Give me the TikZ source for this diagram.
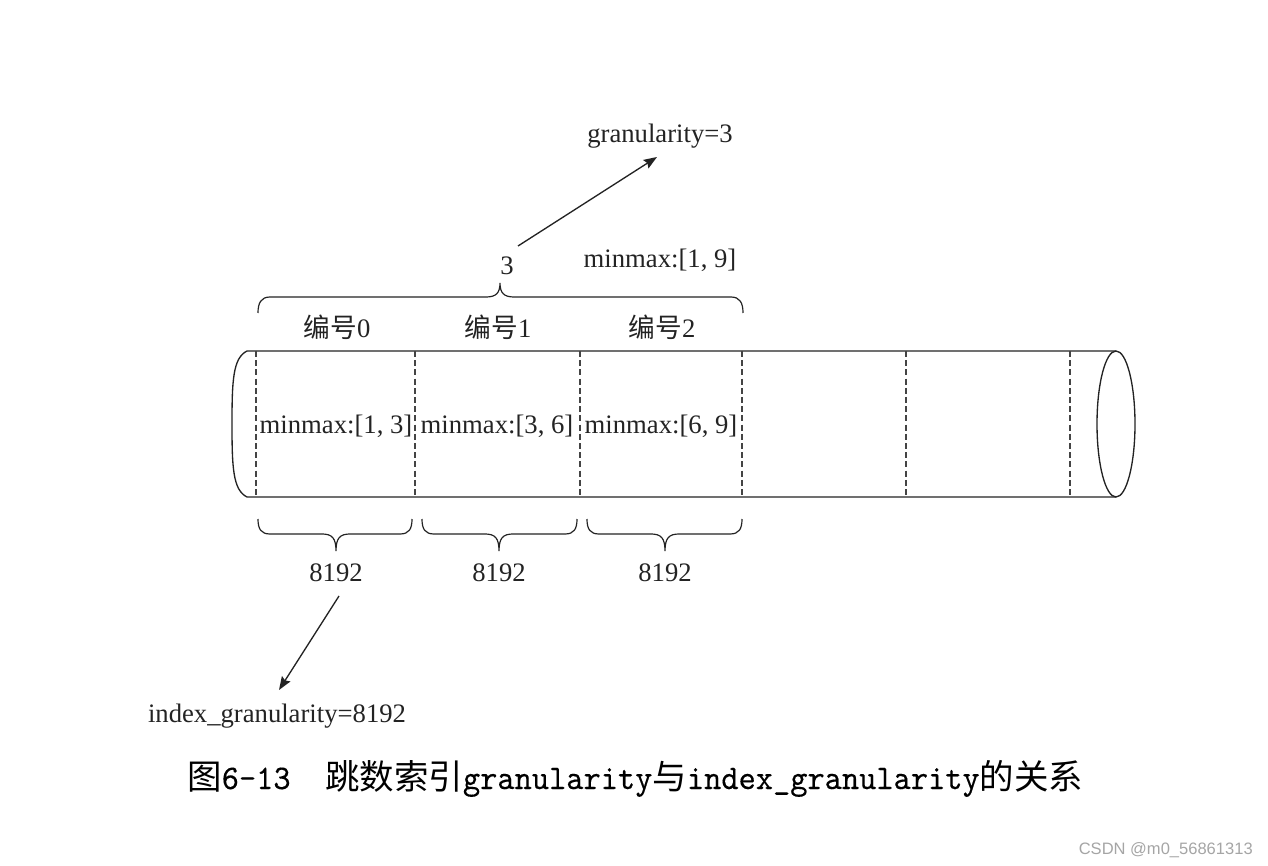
\documentclass[tikz,border=0pt]{standalone}
\usepackage{fontspec}
\setmainfont{Liberation Serif}
\newfontfamily\cjk{Noto Sans CJK SC}
\newfontfamily\capmono[Extension=.otf,FakeStretch=0.952,FakeBold=0.3]{lmmono10-regular}
\newfontfamily\wmfont{Liberation Sans}
\usetikzlibrary{arrows.meta}

\definecolor{ink}{RGB}{35,35,35}
\definecolor{wmgray}{RGB}{165,165,165}

% curly brace opening downward (tip on top): x-left, x-right, x-tip
\newcommand\topbrace[3]{%
  \draw[bracestyle] (#1,313) .. controls (#1,303) and (#1+3,297) .. (#1+12,297)
    -- (#3-14,297) .. controls (#3-4,297) and (#3,293) .. (#3,283)
    .. controls (#3,293) and (#3+4,297) .. (#3+14,297)
    -- (#2-12,297) .. controls (#2-3,297) and (#2,303) .. (#2,313);}
% curly brace opening upward (tip below): x-left, x-right, x-tip
\newcommand\lowbrace[3]{%
  \draw[bracestyle] (#1,519) .. controls (#1,529) and (#1+3,534) .. (#1+12,534)
    -- (#3-14,534) .. controls (#3-4,534) and (#3,538) .. (#3,551)
    .. controls (#3,538) and (#3+4,534) .. (#3+14,534)
    -- (#2-12,534) .. controls (#2-3,534) and (#2,529) .. (#2,519);}

\begin{document}
\begin{tikzpicture}[x=0.75pt,y=-0.75pt,
  lbl/.style={inner sep=0pt,anchor=base,text=ink,font=\fontsize{20}{24}\selectfont},
  outline/.style={draw=ink,line width=1pt},
  cut/.style={draw=ink!85,line width=0.9pt,dash pattern=on 4.5pt off 2.4pt},
  bracestyle/.style={draw=ink,line width=0.9pt},
  arr/.style={draw=ink,line width=1pt,-{Stealth[length=10pt,width=7.5pt,inset=1.5pt]}}]
\useasboundingbox (0,0) rectangle (1268,866);

% cylinder body
\draw[outline] (1116,351) -- (247,351)
  .. controls (233,358) and (232,380) .. (232,424)
  .. controls (232,468) and (233,490) .. (247,497) -- (1116,497);
\draw[outline] (1116,424) ellipse [x radius=19, y radius=73];

% granule boundaries
\foreach \gx in {256,415,580,742,906,1070}
  \draw[cut] (\gx,351) -- (\gx,497);

% granule contents
\node[lbl] (mm0) at (336,433) {minmax:[1, 3]};
\node[lbl] (mm1) at (497,433) {minmax:[3, 6]};
\node[lbl] (mm2) at (661,433) {minmax:[6, 9]};

% mark numbers
\node[lbl] (id0) at (337,338) {{\cjk 编号}0};
\node[lbl] (id1) at (498,338) {{\cjk 编号}1};
\node[lbl] (id2) at (662,338) {{\cjk 编号}2};

% index granule spanning three marks
\topbrace{258}{743}{500}
\node[lbl] (three) at (507,275) {3};
\node[lbl] (mmall) at (660,268) {minmax:[1, 9]};
\node[lbl] (gran) at (660,143) {granularity=3};
\draw[arr] ([shift={(11,-29)}]three.base) -- ([shift={(-3,14)}]gran.base);

% rows per mark
\lowbrace{258}{412}{336}
\lowbrace{422}{577}{499}
\lowbrace{587}{742}{665}
\node[lbl] (rows0) at (336,581) {8192};
\node[lbl] (rows1) at (499,581) {8192};
\node[lbl] (rows2) at (665,581) {8192};
\node[lbl] (igran) at (277,722) {index\_granularity=8192};
\draw[arr] ([shift={(3,15)}]rows0.base) -- ([shift={(2,-32)}]igran.base);

% caption
\node[inner sep=0pt,anchor=base west,text=black,font=\fontsize{25.85}{30}\selectfont] (cap) at (187,789)
  {{\cjk 图}{\capmono 6-13}\hspace{1em}{\cjk 跳数索引}{\capmono granularity}{\cjk 与}{\capmono index\_granularity}{\cjk 的关系}};

% watermark
\node[inner sep=0pt,anchor=base east,text=wmgray,font=\wmfont\fontsize{12.4}{14}\selectfont] (wm) at (1253,854) {CSDN @m0\_56861313};
\end{tikzpicture}
\end{document}
